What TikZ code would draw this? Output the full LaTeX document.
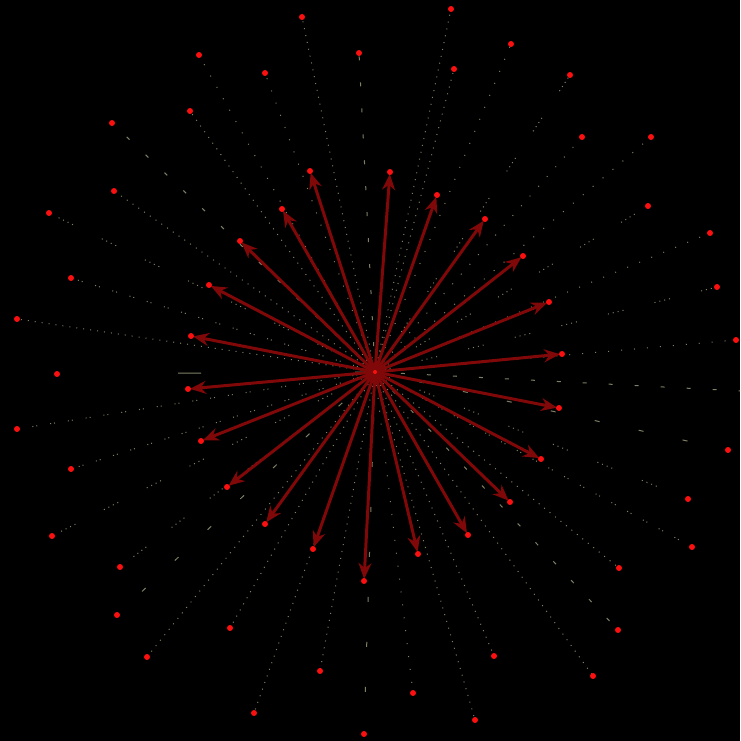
\documentclass[tikz,border=0pt]{standalone}
\usetikzlibrary{arrows.meta}

\definecolor{spoke}{RGB}{128,8,8}
\definecolor{leaf}{RGB}{250,16,16}
\definecolor{trail}{RGB}{128,128,100}

\tikzset{
  spokearrow/.style={draw=spoke,line width=3pt,-{Stealth[length=16pt,width=13pt]},shorten >=2pt},
  trailline/.style={draw=trail,line width=1pt},
  fineline/.style={trailline,dash pattern=on 1pt off 6pt},
  looseline/.style={trailline,dash pattern=on 1pt off 12pt},
  sparseline/.style={trailline,dash pattern=on 4pt off 22pt},
  wideline/.style={trailline,dash pattern=on 5pt off 40pt},
  pairline/.style={trailline,dash pattern=on 1pt off 3pt on 1pt off 13pt},
  groupline/.style={trailline,dash pattern=on 1pt off 4pt on 1pt off 4pt on 1pt off 4pt on 1pt off 32pt},
  longline/.style={trailline,dash pattern=on 20pt off 154pt on 23pt off 300pt},
  leafdot/.style={circle,fill=leaf,inner sep=0pt,minimum size=6pt},
}

\begin{document}
\begin{tikzpicture}[x=1pt,y=-1pt]
    \fill[black] (0,0) rectangle (740,741);
    \clip (0,0) rectangle (740,741);

    \coordinate (hub) at (375,372);

    % outer ring, dashed trails
    \foreach \n/\x/\y/\s in {1/302/17/fineline, 2/451/9/fineline, 3/359/53/sparseline,
        4/511/44/looseline, 5/199/55/looseline, 6/454/69/fineline, 7/265/73/looseline,
        8/570/75/groupline, 9/190/111/fineline, 10/112/123/sparseline, 11/582/137/looseline,
        12/651/137/looseline, 13/114/191/fineline, 14/648/206/groupline, 15/49/213/groupline,
        16/710/233/looseline, 17/71/278/pairline, 18/717/287/groupline, 19/17/319/fineline,
        20/736/340/looseline, 21/57/374/longline, 22/17/429/pairline, 23/728/450/wideline,
        24/71/469/pairline, 25/688/499/groupline, 26/52/536/groupline, 27/692/547/pairline,
        28/120/567/groupline, 29/619/568/fineline, 30/117/615/wideline, 31/618/630/sparseline,
        32/230/628/fineline, 33/147/657/fineline, 34/494/656/fineline, 35/593/676/fineline,
        36/320/671/fineline, 37/413/693/looseline, 38/254/713/fineline, 39/475/720/fineline,
        40/364/734/wideline}
    {
        \coordinate (o\n) at (\x,\y);
        \draw[\s] (hub) -- (o\n);
    }
    \coordinate (edge) at (760,392);
    \draw[sparseline] (hub) -- (edge);

    % inner ring, arrows
    \foreach \n/\x/\y in {1/390/172, 2/310/171, 3/437/195, 4/282/209, 5/485/219,
        6/240/241, 7/523/256, 8/209/285, 9/549/302, 10/191/336, 11/562/354,
        12/188/389, 13/559/408, 14/201/441, 15/541/459, 16/227/487, 17/510/502,
        18/265/524, 19/468/535, 20/313/549, 21/418/554, 22/364/581}
    {
        \coordinate (i\n) at (\x,\y);
        \draw[spokearrow] (hub) -- (i\n);
    }

    % dots on top
    \foreach \n in {1,...,40}
        \node[leafdot] (d-o\n) at (o\n) {};
    \foreach \n in {1,...,22}
        \node[leafdot] (d-i\n) at (i\n) {};
    \node[leafdot,minimum size=4pt] (d-hub) at (hub) {};
\end{tikzpicture}
\end{document}
